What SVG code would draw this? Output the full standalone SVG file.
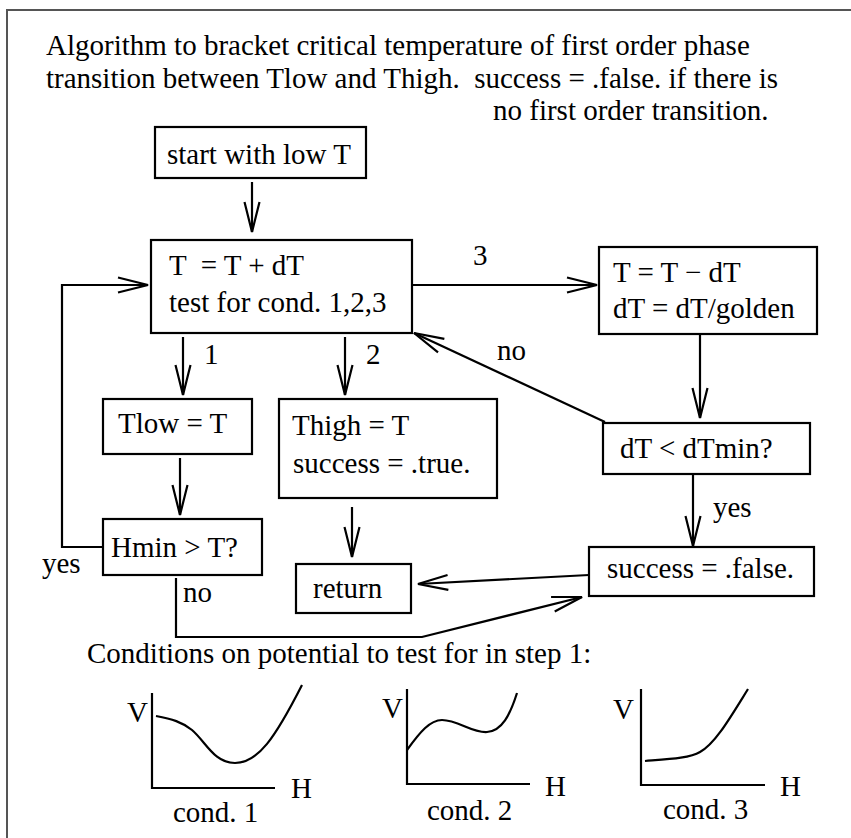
<svg xmlns="http://www.w3.org/2000/svg" width="851" height="838" viewBox="0 0 851 838">
<style>
text{font-family:"Liberation Serif","Times New Roman",serif;font-size:29px;fill:#000}
.box{fill:#fff;stroke:#000;stroke-width:2.2}
.ln{fill:none;stroke:#000;stroke-width:2.2}
.arr{fill:none;stroke:#000;stroke-width:2.2;marker-end:url(#ah)}
.frame{fill:none;stroke:#555;stroke-width:2}
</style>
<defs>
<marker id="ah" markerUnits="userSpaceOnUse" viewBox="-32 -10 34 20" markerWidth="34" markerHeight="20" refX="0" refY="0" orient="auto" overflow="visible">
<path d="M-30,-7.5 L0,0 L-30,7.5" fill="none" stroke="#000" stroke-width="2.2"/>
</marker>
</defs>
<rect width="851" height="838" fill="#fff"/>
<path class="frame" d="M7,838 L7,10 L851,10"/>
<g id="title">
<text x="46" y="55">Algorithm to bracket critical temperature of first order phase</text>
<text x="46" y="88" xml:space="preserve">transition between Tlow and Thigh.  success = .false. if there is</text>
<text x="493" y="120">no first order transition.</text>
</g>
<g id="connectors">
<path class="arr" d="M252,182 L252,232"/>
<path class="arr" d="M412,285 L597,285"/>
<path class="arr" d="M700,334 L700,418"/>
<path class="arr" d="M605,422 L414,333"/>
<path class="arr" d="M693,474 L693,546"/>
<path class="arr" d="M183,337 L183,395"/>
<path class="arr" d="M345,337 L345,395"/>
<path class="arr" d="M180,458 L180,515"/>
<path class="arr" d="M352,507 L352,557"/>
<path class="arr" d="M103,547 L62,547 L62,285 L148,285"/>
<path class="arr" d="M176,578 L176,637 L422,637 L582,597"/>
<path class="arr" d="M589,575 L418,584"/>
<text x="473" y="265">3</text>
<text x="497" y="360">no</text>
<text x="713" y="517">yes</text>
<text x="204" y="364">1</text>
<text x="366" y="364">2</text>
<text x="42" y="573">yes</text>
<text x="183" y="602">no</text>
</g>
<g id="start">
<rect class="box" x="155" y="127" width="211" height="51"/>
<text x="167" y="164">start with low T</text>
</g>
<g id="step">
<rect class="box" x="151" y="240" width="261" height="93"/>
<text x="169" y="275" xml:space="preserve">T  = T + dT</text>
<text x="169" y="312">test for cond. 1,2,3</text>
</g>
<g id="backstep">
<rect class="box" x="599" y="247" width="218" height="87"/>
<text x="613" y="282">T = T − dT</text>
<text x="613" y="318">dT = dT/golden</text>
</g>
<g id="dtmin">
<rect class="box" x="603" y="423" width="207" height="51"/>
<text x="620" y="458">dT &lt; dTmin?</text>
</g>
<g id="tlow">
<rect class="box" x="103" y="399" width="149" height="55"/>
<text x="118" y="433">Tlow = T</text>
</g>
<g id="hmin">
<rect class="box" x="103" y="519" width="159" height="56"/>
<text x="111" y="557">Hmin &gt; T?</text>
</g>
<g id="thigh">
<rect class="box" x="279" y="399" width="218" height="99"/>
<text x="292" y="435">Thigh = T</text>
<text x="293" y="473">success = .true.</text>
</g>
<g id="return">
<rect class="box" x="296" y="564" width="115" height="49"/>
<text x="313" y="598">return</text>
</g>
<g id="fail">
<rect class="box" x="589" y="547" width="225" height="49"/>
<text x="607" y="578">success = .false.</text>
</g>
<g id="conditions">
<text x="87" y="663">Conditions on potential to test for in step 1:</text>
<path class="ln" d="M152,693 L152,788 L275,788"/>
<path class="ln" d="M156,716 C172,719 182,722 192,730 C206,742 214,763 235,763 C258,763 275,738 302,685"/>
<text x="127" y="722">V</text>
<text x="291" y="798">H</text>
<text x="173" y="822">cond. 1</text>
<path class="ln" d="M407,689 L407,784 L530,784"/>
<path class="ln" d="M407,750 C420,732 430,720 442,720 C458,720 472,733 487,732 C502,731 510,715 517,693"/>
<text x="382" y="718">V</text>
<text x="545" y="796">H</text>
<text x="427" y="820">cond. 2</text>
<path class="ln" d="M641,689 L641,785 L765,785"/>
<path class="ln" d="M645,761 C670,759 690,758 700,752 C715,744 730,718 748,689"/>
<text x="613" y="719">V</text>
<text x="780" y="796">H</text>
<text x="663" y="819">cond. 3</text>
</g>
</svg>
